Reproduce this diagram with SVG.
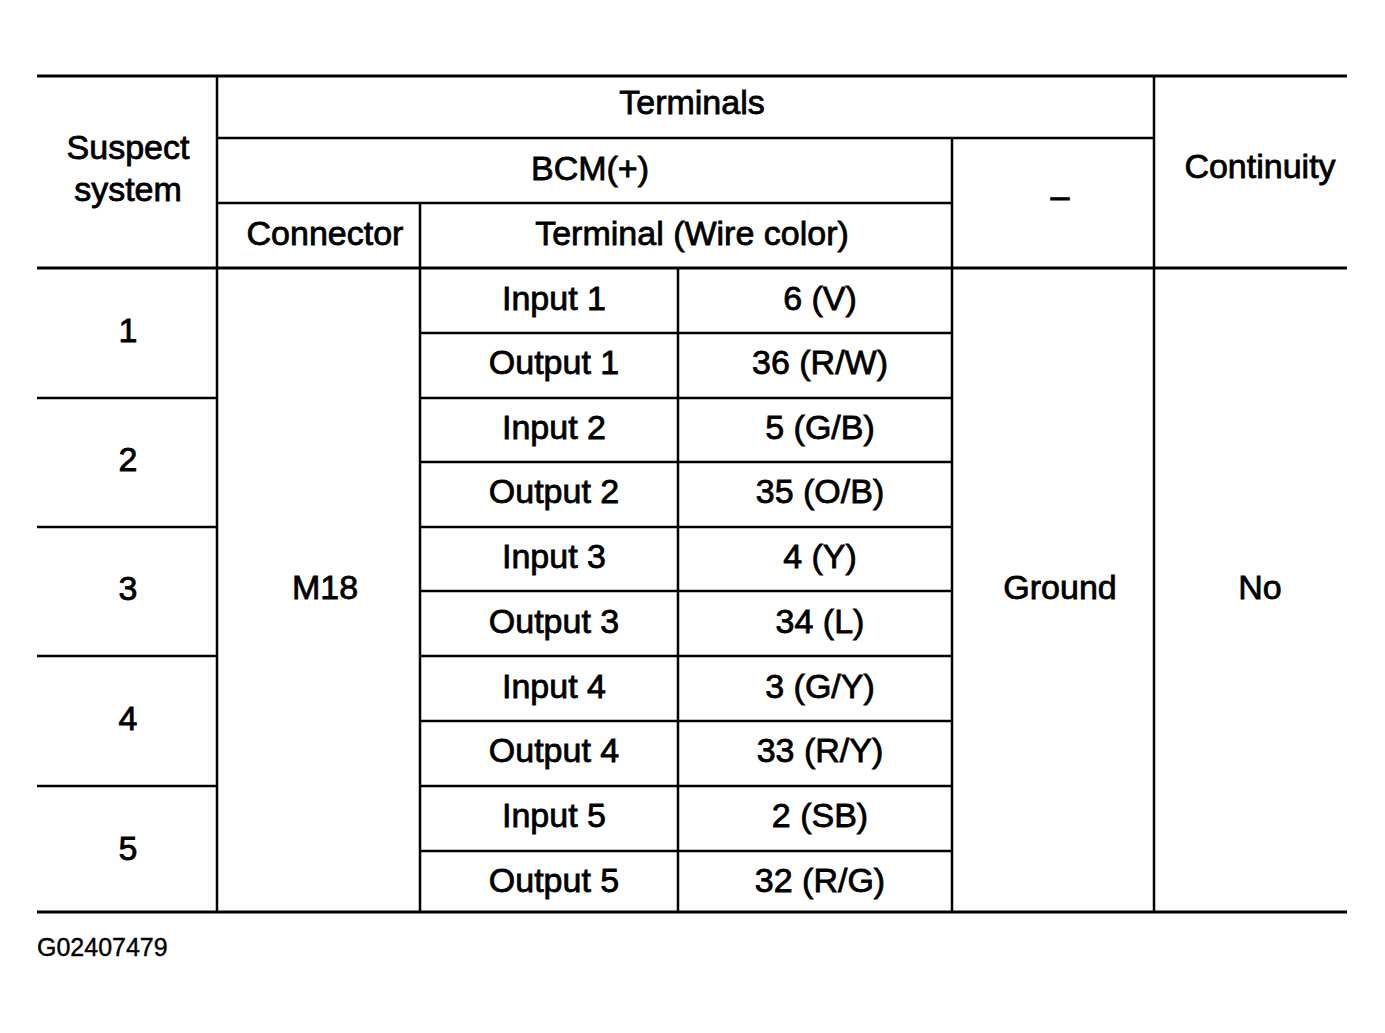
<svg xmlns="http://www.w3.org/2000/svg" width="1385" height="1033" viewBox="0 0 1385 1033">
<style>
.t{font-family:"Liberation Sans",Arial,Helvetica,sans-serif;font-size:34px;fill:#000;stroke:#000;stroke-width:0.8;text-anchor:middle}
.f{font-family:"Liberation Sans",Arial,Helvetica,sans-serif;font-size:25px;fill:#000;stroke:#000;stroke-width:0.4}
.o{stroke:#000;stroke-width:3;fill:none}
.i{stroke:#000;stroke-width:2.5;fill:none}
</style>
<rect width="1385" height="1033" fill="#fff"/>
<g id="grid">
<line class="o" x1="37" y1="76" x2="1347" y2="76"/>
<line class="o" x1="37" y1="268" x2="1347" y2="268"/>
<line class="o" x1="37" y1="912" x2="1347" y2="912"/>
<line class="i" x1="217" y1="138" x2="1154" y2="138"/>
<line class="i" x1="217" y1="203" x2="952" y2="203"/>
<line class="i" x1="217" y1="76" x2="217" y2="912"/>
<line class="i" x1="420" y1="203" x2="420" y2="912"/>
<line class="i" x1="678" y1="268" x2="678" y2="912"/>
<line class="i" x1="952" y1="138" x2="952" y2="912"/>
<line class="i" x1="1154" y1="76" x2="1154" y2="912"/>
<line class="i" x1="37" y1="398" x2="217" y2="398"/>
<line class="i" x1="37" y1="527" x2="217" y2="527"/>
<line class="i" x1="37" y1="656" x2="217" y2="656"/>
<line class="i" x1="37" y1="786" x2="217" y2="786"/>
<line class="i" x1="420" y1="333" x2="952" y2="333"/>
<line class="i" x1="420" y1="398" x2="952" y2="398"/>
<line class="i" x1="420" y1="462" x2="952" y2="462"/>
<line class="i" x1="420" y1="527" x2="952" y2="527"/>
<line class="i" x1="420" y1="591" x2="952" y2="591"/>
<line class="i" x1="420" y1="656" x2="952" y2="656"/>
<line class="i" x1="420" y1="721" x2="952" y2="721"/>
<line class="i" x1="420" y1="786" x2="952" y2="786"/>
<line class="i" x1="420" y1="851" x2="952" y2="851"/>
</g>
<g id="header">
<text class="t" x="128" y="159">Suspect</text>
<text class="t" x="128" y="201">system</text>
<text class="t" x="692" y="114">Terminals</text>
<text class="t" x="590" y="180">BCM(+)</text>
<text class="t" x="325" y="245">Connector</text>
<text class="t" x="692" y="245">Terminal (Wire color)</text>
<text class="t" x="1060" y="207">–</text>
<text class="t" x="1260" y="178">Continuity</text>
</g>
<g id="systems">
<text class="t" x="128" y="342">1</text>
<text class="t" x="128" y="471">2</text>
<text class="t" x="128" y="600">3</text>
<text class="t" x="128" y="730">4</text>
<text class="t" x="128" y="860">5</text>
</g>
<g id="connector">
<text class="t" x="325" y="599">M18</text>
</g>
<g id="terminals">
<text class="t" x="554" y="310">Input 1</text>
<text class="t" x="820" y="310">6 (V)</text>
<text class="t" x="554" y="374">Output 1</text>
<text class="t" x="820" y="374">36 (R/W)</text>
<text class="t" x="554" y="439">Input 2</text>
<text class="t" x="820" y="439">5 (G/B)</text>
<text class="t" x="554" y="503">Output 2</text>
<text class="t" x="820" y="503">35 (O/B)</text>
<text class="t" x="554" y="568">Input 3</text>
<text class="t" x="820" y="568">4 (Y)</text>
<text class="t" x="554" y="633">Output 3</text>
<text class="t" x="820" y="633">34 (L)</text>
<text class="t" x="554" y="698">Input 4</text>
<text class="t" x="820" y="698">3 (G/Y)</text>
<text class="t" x="554" y="762">Output 4</text>
<text class="t" x="820" y="762">33 (R/Y)</text>
<text class="t" x="554" y="827">Input 5</text>
<text class="t" x="820" y="827">2 (SB)</text>
<text class="t" x="554" y="892">Output 5</text>
<text class="t" x="820" y="892">32 (R/G)</text>
</g>
<g id="ground">
<text class="t" x="1060" y="599">Ground</text>
</g>
<g id="continuity">
<text class="t" x="1260" y="599">No</text>
</g>
<text class="f" x="37" y="956">G02407479</text>
</svg>
